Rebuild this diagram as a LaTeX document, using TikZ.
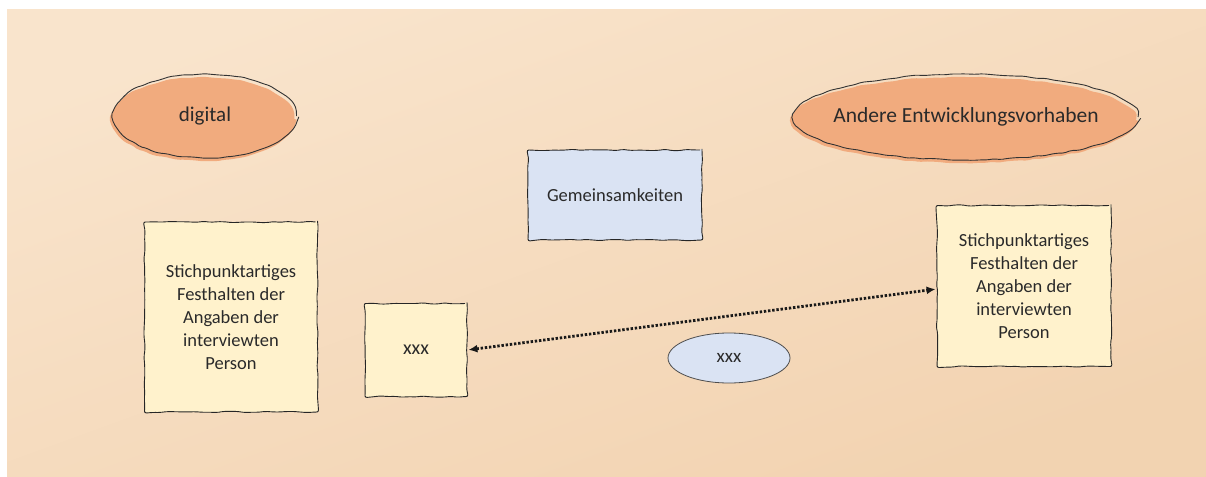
\documentclass[tikz,border=0pt]{standalone}
\usepackage{fontspec}
\setmainfont{Carlito}
\usetikzlibrary{decorations.pathmorphing,shapes.geometric,arrows.meta}

\definecolor{paperA}{HTML}{F9E4CC}
\definecolor{paperB}{HTML}{F2D3B1}
\definecolor{ellfill}{HTML}{F1AB7E}
\definecolor{bluefill}{HTML}{DAE3F3}
\definecolor{yellowfill}{HTML}{FFF2CC}
\definecolor{inktext}{HTML}{2A2A2A}

\tikzset{
  sketchy/.style={decorate, decoration={random steps, segment length=7pt, amplitude=0.7pt}, rounded corners=2pt},
  ellnode/.style={ellipse, draw=black!80, line width=0.9pt, sketchy, text=inktext,
    preaction={fill=ellfill, transform canvas={shift={(-2pt,-3pt)}}}},
  notebox/.style={rectangle, draw=black!85, line width=0.9pt, sketchy, fill=yellowfill,
    text=inktext, align=center, font=\fontsize{18.5}{23}\selectfont},
  bluebox/.style={rectangle, draw=black!85, line width=0.9pt, sketchy, fill=bluefill,
    text=inktext, font=\fontsize{18.5}{22}\selectfont},
  blueell/.style={ellipse, draw=black!70, line width=0.8pt, fill=bluefill, text=inktext,
    font=\fontsize{19}{22}\selectfont},
  link/.style={<->, >={Latex[length=9pt,width=8pt]}, line width=2.8pt,
    dash pattern=on 2.4pt off 1.8pt, black!90, shorten <=1pt, shorten >=1pt}
}

\begin{document}
\begin{tikzpicture}[x=1pt, y=-1pt]
  \pgfmathsetseed{7}
  \useasboundingbox (0,0) rectangle (1206,476);
  % paper background
  \shade[top color=paperA, bottom color=paperB, shading angle=20] (7,10) rectangle (1206,476);

  % heading ellipses
  \node[ellnode, minimum width=183pt, minimum height=84pt,
        font=\fontsize{21}{24}\selectfont] (dig) at (205,116) {digital};
  \node[ellnode, inner xsep=-11pt, minimum height=86pt,
        font=\fontsize{21.5}{25}\selectfont] (andere) at (966,117) {Andere\ Entwicklungsvorhaben};

  % centre box
  \node[bluebox, minimum width=174pt, minimum height=90pt] (gem) at (615,195) {Gemeinsamkeiten};

  % note boxes
  \node[notebox, minimum width=173pt, minimum height=190pt] (left) at (231,317)
    {Stichpunktartiges\\Festhalten der\\Angaben der\\interviewten\\Person};
  \node[notebox, minimum width=174pt, minimum height=161pt] (right) at (1024,286)
    {Stichpunktartiges\\Festhalten der\\Angaben der\\interviewten\\Person};
  \node[notebox, minimum width=102pt, minimum height=93pt,
        font=\fontsize{20}{23}\selectfont] (x1) at (416,350) {xxx};

  % small ellipse
  \node[blueell, minimum width=122pt, minimum height=50pt] (x2) at (729,358) {xxx};

  % dotted connector between the small box and the right note
  \coordinate (rin) at (right.west |- 0,289);
  \draw[link] (x1.east) -- (rin);
\end{tikzpicture}
\end{document}
